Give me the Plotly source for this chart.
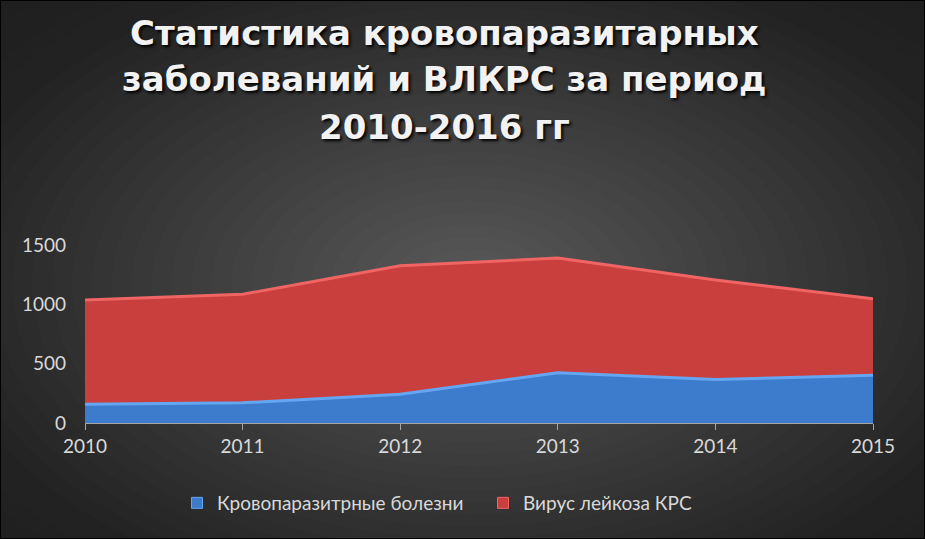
import plotly.graph_objects as go

years = [2010, 2011, 2012, 2013, 2014, 2015]
blood_parasitic = [158, 170, 243, 423, 367, 403]
leukosis = [879, 915, 1082, 967, 839, 643]
series_names = ["Кровопаразитрные болезни", "Вирус лейкоза КРС"]
series_colors = ["#3d7bcc", "#c93f3d"]
edge_colors = ["#64a6f2", "#f06464"]
y_ticks = [0, 500, 1000, 1500]
title_lines = ["Статистика кровопаразитарных", "заболеваний и ВЛКРС за период", "2010-2016 гг"]
title_line_y = [33, 79, 127]

W, H = 925, 539
ML, MR, MT, MB = 85, 52, 245, 116
PW, PH = W - ML - MR, H - MT - MB


def px_x(px):
    return (px - ML) / PW


def px_y(py):
    return (H - MB - py) / PH


fig = go.Figure()

for vals, name, fc, lc in zip([blood_parasitic, leukosis], series_names, series_colors, edge_colors):
    fig.add_trace(go.Scatter(
        x=years, y=vals, name=name, stackgroup="one",
        mode="lines", line=dict(color=lc, width=3),
        fillcolor=fc, hoverinfo="skip", showlegend=False,
    ))

# legend entries: small square markers as in the reference
for name, fc, lc in zip(series_names, series_colors, edge_colors):
    fig.add_trace(go.Scatter(
        x=[None], y=[None], name=name, mode="markers",
        marker=dict(symbol="square", size=11, color=fc, line=dict(color=lc, width=1)),
        hoverinfo="skip", showlegend=True,
    ))

# radial background gradient
shapes = []
cx, cy = 470, 285
RX, RY = 560, 340
N = 45
c_center, c_edge = 0x5a, 0x22
for i in range(N):
    r = 1.6 * (1 - i / N)
    t = min(r, 1.0)
    v = int(round(c_center + (c_edge - c_center) * t))
    if r > 1:
        v = max(0x18, int(round(c_edge - (r - 1) * 16)))
    col = f"#{v:02x}{v:02x}{v:02x}"
    shapes.append(dict(
        type="circle", xref="paper", yref="paper", layer="below",
        x0=px_x(cx - RX * r), x1=px_x(cx + RX * r),
        y0=px_y(cy + RY * r), y1=px_y(cy - RY * r),
        fillcolor=col, line=dict(width=0),
    ))
shapes.append(dict(
    type="rect", xref="paper", yref="paper", layer="above",
    x0=px_x(0), x1=px_x(W), y0=px_y(H), y1=px_y(0),
    line=dict(color="#000000", width=2), fillcolor="rgba(0,0,0,0)",
))

annotations = []
for line, ly in zip(title_lines, title_line_y):
    annotations.append(dict(
        text=line, xref="paper", yref="paper",
        x=px_x(444), y=px_y(ly), xanchor="center", yanchor="middle",
        showarrow=False, align="center",
        font=dict(family="DejaVu Sans", size=34, color="#f2f2f2", weight="bold",
                  shadow="2px 2px 3px #000000"),
    ))

fig.update_layout(
    width=W, height=H,
    margin=dict(l=ML, r=MR, t=MT, b=MB),
    paper_bgcolor="#181818",
    plot_bgcolor="rgba(0,0,0,0)",
    shapes=shapes,
    annotations=annotations,
    showlegend=True,
    legend=dict(
        orientation="h", x=px_x(177), xanchor="left", y=px_y(484), yanchor="top",
        font=dict(family="Lato", size=19, color="#d9d9d9"),
        entrywidth=261, entrywidthmode="pixels", itemwidth=30,
        bgcolor="rgba(0,0,0,0)", traceorder="normal",
    ),
    xaxis=dict(
        range=[2010, 2015], tickvals=years, ticktext=[str(y) for y in years],
        showgrid=False, zeroline=False, showline=True, linecolor="#a6a6a6", linewidth=1,
        ticks="outside", ticklen=6, tickcolor="#a6a6a6",
        tickfont=dict(family="Lato", size=19, color="#d9d9d9"),
        fixedrange=True,
    ),
    yaxis=dict(
        range=[0, 1500], tickvals=y_ticks,
        showgrid=True, gridcolor="rgba(255,255,255,0.14)", gridwidth=1,
        zeroline=False, showline=False, ticks="",
        tickfont=dict(family="Lato", size=19, color="#d9d9d9"),
        ticklabelstandoff=18, fixedrange=True,
    ),
)

fig.write_html("out.html", config={"displayModeBar": False},
               post_script="document.body.style.margin='0';")
